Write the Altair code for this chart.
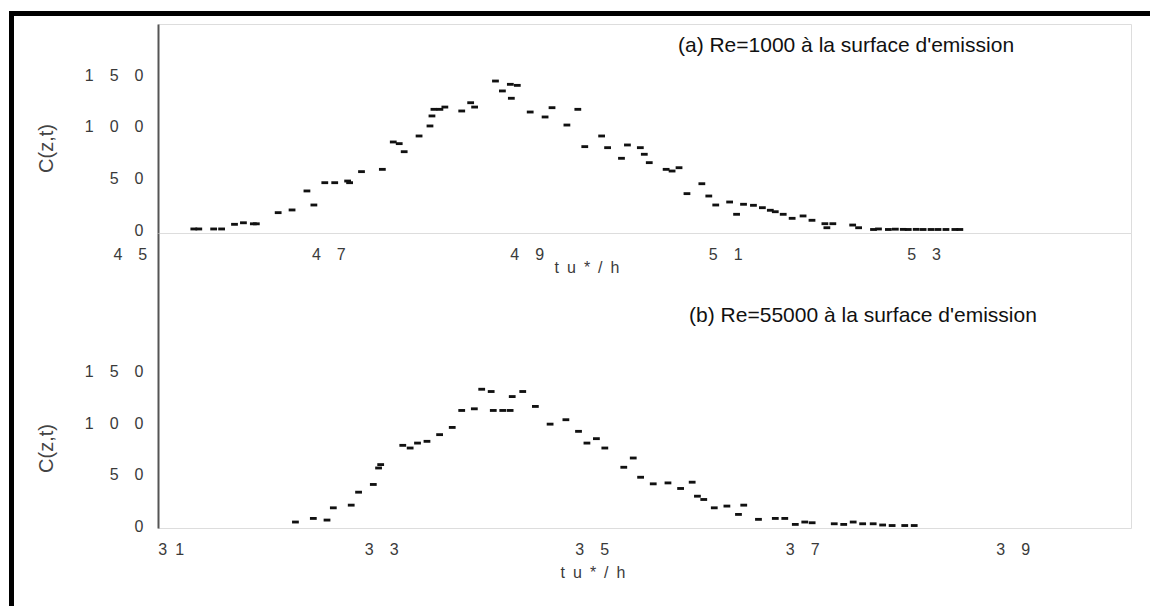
import altair as alt
import pandas as pd

# ---------------- data ----------------
top_t = [45.64, 45.69, 45.84, 45.92, 46.05, 46.14, 46.24, 46.27, 46.49, 46.63, 46.78, 46.85,
         46.96, 47.06, 47.19, 47.21, 47.33, 47.54, 47.65, 47.71, 47.76, 47.91, 48.02, 48.04,
         48.06, 48.12, 48.17, 48.34, 48.43, 48.47, 48.68, 48.75, 48.83, 48.84, 48.90, 49.03,
         49.18, 49.25, 49.40, 49.51, 49.58, 49.75, 49.81, 49.95, 50.01, 50.14, 50.18, 50.23,
         50.40, 50.46, 50.53, 50.61, 50.76, 50.83, 50.90, 51.04, 51.11, 51.18, 51.28, 51.37,
         51.45, 51.50, 51.58, 51.67, 51.78, 51.87, 52.00, 52.02, 52.08, 52.28, 52.34, 52.49,
         52.54, 52.64, 52.71, 52.79, 52.84, 52.92, 52.99, 53.07, 53.14, 53.22, 53.31, 53.36]
top_c = [1, 1, 1, 1, 5.5, 7, 6, 6, 16.8, 19.4, 37.8, 24.2,
         45.8, 45.8, 47.4, 45.8, 56.5, 58.7, 85.2, 83.6, 75.8, 91, 100.7, 110.4,
         116.8, 116.8, 119, 115.2, 123.2, 119, 144.2, 134.6, 141, 127.5, 140, 114.2,
         109.4, 118.4, 101.6, 116.8, 80.7, 91, 79.7, 69.4, 82.3, 79.7, 73.3, 65.2,
         58.7, 57.1, 60.3, 35.2, 44.8, 32.9, 24.2, 27.1, 15.2, 24.9, 23.9, 21.6,
         19.1, 17.7, 15.2, 11.3, 13.6, 9.4, 6.1, 2.2, 6.1, 4.8, 2.2, 0.5,
         1, 0.5, 0.8, 0.6, 0.5, 0.6, 0.5, 0.5, 0.5, 0.5, 0.5, 0.5]

bot_t = [32.18, 32.35, 32.48, 32.54, 32.71, 32.78, 32.92, 32.97, 32.99, 33.20, 33.27, 33.34,
         33.43, 33.55, 33.67, 33.76, 33.88, 33.95, 34.04, 34.06, 34.15, 34.22, 34.24, 34.34,
         34.46, 34.60, 34.75, 34.87, 34.95, 35.04, 35.12, 35.30, 35.39, 35.46, 35.58, 35.72,
         35.84, 35.95, 36.00, 36.06, 36.16, 36.28, 36.39, 36.44, 36.58, 36.74, 36.83, 36.93,
         37.02, 37.09, 37.30, 37.39, 37.48, 37.57, 37.67, 37.76, 37.85, 37.97, 38.06]
bot_c = [3.9, 7.4, 5.8, 17.7, 20.3, 32.9, 40.4, 56.4, 59.7, 78.4, 75.8, 80.6,
         82.3, 88.8, 95.8, 112.3, 113.9, 132.9, 130.7, 112.3, 112.3, 112.3, 125.8, 130.7,
         116.2, 99, 103.3, 92, 80.6, 84.9, 75.8, 57.1, 66.1, 47.4, 41, 41.9,
         36.5, 42.6, 29, 25.8, 17.7, 19.4, 11.3, 20.3, 6.5, 7.4, 7.4, 1.6,
         3.9, 3.2, 2.2, 1.6, 3.9, 2.2, 2.2, 1, 0.5, 0.5, 0.5]

EM = "\u2003"
EN = "\u2002"
top_ticks = [45, 47, 49, 51, 53]
top_tick_labels = ["4" + EM + "5", "4" + EM + "7", "4" + EM + "9", "5" + EM + "1", "5" + EM + "3"]
bot_ticks = [31, 33, 35, 37, 39]
bot_tick_labels = ["3" + EN + "1", "3" + EM + "3", "3" + EM + "5", "3" + EM + "7", "3" + EM + "9"]
y_ticks = [0, 50, 100, 150]
y_tick_labels = ["0", "5" + EM + "0", "1" + EM + "0" + EM + "0", "1" + EM + "5" + EM + "0"]

title_a = "(a) Re=1000 à la surface d'emission"
title_b = "(b) Re=55000 à la surface d'emission"
x_title = "t" + EN + "u" + EN + "*" + EN + "/" + EN + "h"
y_title = "C(z,t)"

# ---------------- styling ----------------
FONT = "Liberation Sans"
W = 973
H_TOP = 209
H_BOT = 295
AXIS_COLOR = "#555555"
LABEL_COLOR = "#3a3a3a"

shape_dash = "M-1,-0.42H1V0.42H-1Z"

def label_expr(values, labels):
    expr = "datum.label"
    for v, l in reversed(list(zip(values, labels))):
        expr = f"datum.value == {v} ? '{l}' : ({expr})"
    return expr

def panel(t, c, xdom, ydom, height, ticks, tick_labels, title, title_xy, xtitle_xy, ytitle_y, extra=None):
    xs = alt.Scale(domain=xdom, nice=False, zero=False)
    ys = alt.Scale(domain=ydom, nice=False, zero=False)
    pts = alt.Chart(pd.DataFrame({"t": t, "c": c})).mark_point(
        shape=shape_dash, filled=True, color="#111111", opacity=1, size=46
    ).encode(
        x=alt.X("t:Q", scale=xs, axis=alt.Axis(labels=False, ticks=False, grid=False, title=None,
                                                domainColor=AXIS_COLOR, domainWidth=2)),
        y=alt.Y("c:Q", scale=ys, axis=alt.Axis(values=y_ticks, labelExpr=label_expr(y_ticks, y_tick_labels),
                                                ticks=False, grid=False, domainColor=AXIS_COLOR, domainWidth=2,
                                                labelPadding=15, labelFont=FONT, labelFontSize=16,
                                                labelColor=LABEL_COLOR, title=y_title, titleX=-112,
                                                titleY=ytitle_y, titleAngle=270, titleBaseline="middle",
                                                titleAlign="center", titleFont=FONT, titleFontSize=20,
                                                titleFontWeight="normal", titleColor="#444444")),
    )
    tl = alt.Chart(pd.DataFrame({"t": ticks, "lab": tick_labels})).mark_text(
        font=FONT, fontSize=16, color=LABEL_COLOR, baseline="middle", align="center"
    ).encode(
        x=alt.X("t:Q", scale=xs, axis=None),
        y=alt.value(height + 22),
        text="lab:N",
    )
    xt = alt.Chart(pd.DataFrame({"lab": [x_title]})).mark_text(
        font=FONT, fontSize=16, color=LABEL_COLOR, baseline="middle", align="center"
    ).encode(x=alt.value(xtitle_xy[0]), y=alt.value(xtitle_xy[1]), text="lab:N")
    tt = alt.Chart(pd.DataFrame({"lab": [title]})).mark_text(
        font=FONT, fontSize=21, color="#111111", baseline="middle", align="center"
    ).encode(x=alt.value(title_xy[0]), y=alt.value(title_xy[1]), text="lab:N")
    layers = [pts, tl, xt, tt] + (extra or [])
    return alt.layer(*layers).properties(width=W, height=height)

# black frame (left and top edges), drawn as filled rects so the bounds are exact
frame_df = pd.DataFrame({"k": [0]})
frame_left = alt.Chart(frame_df).mark_rect(color="black", opacity=1).encode(
    x=alt.value(-149), x2=alt.value(-144), y=alt.value(-13), y2=alt.value(582)
)
frame_top = alt.Chart(frame_df).mark_rect(color="black", opacity=1).encode(
    x=alt.value(-149), x2=alt.value(992), y=alt.value(-13), y2=alt.value(-8)
)

top = panel(top_t, top_c, [45.279, 55.085], [-2.9, 199.4], H_TOP, top_ticks, top_tick_labels,
            title_a, (688, 22), (429, 244), 124, extra=[frame_left, frame_top])
bottom = panel(bot_t, bot_c, [30.874, 40.12], [-1.9, 284.7], H_BOT, bot_ticks, bot_tick_labels,
               title_b, (705, 83), (435, 340), 215)

chart = alt.vconcat(top, bottom, spacing=0, bounds="flush").properties(
    padding={"left": 0, "top": 2, "right": 0, "bottom": 0}
).configure_view(stroke=None).configure(font=FONT)

chart.save("out.html", embed_options={"renderer": "svg", "actions": False})
